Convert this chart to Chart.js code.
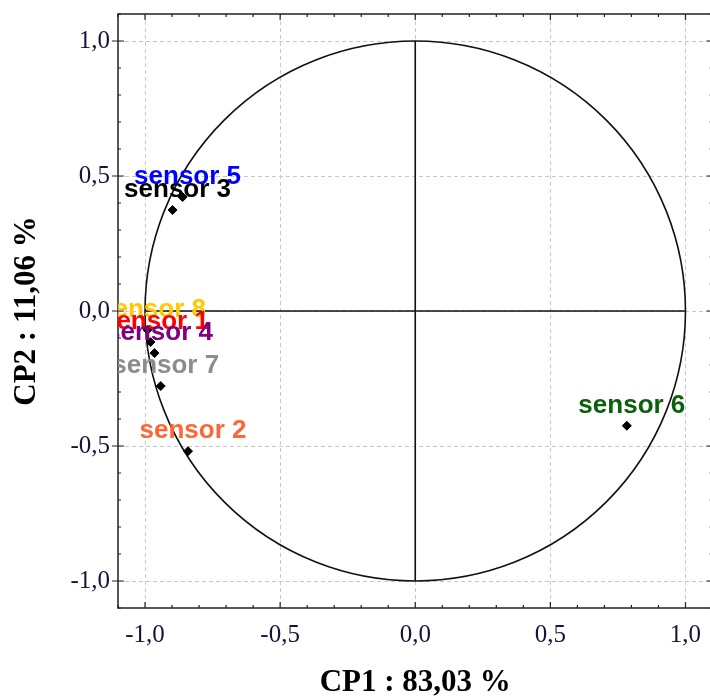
<!DOCTYPE html>
<html>
<head>
<meta charset="utf-8">
<script src="https://cdn.jsdelivr.net/npm/chart.js@4"></script>
<style>
  html, body { margin: 0; padding: 0; background: #fff; overflow: hidden; }
  canvas { display: block; }
</style>
</head>
<body>
<canvas id="cercleCorrelation" width="718" height="698"></canvas>
<script>
// correlations des capteurs avec les deux premieres composantes
var sensors = ['sensor 1', 'sensor 2', 'sensor 3', 'sensor 4', 'sensor 5', 'sensor 6', 'sensor 7', 'sensor 8'];
var cp1 = [-0.980, -0.841, -0.898, -0.965, -0.861, 0.783, -0.942, -0.991];
var cp2 = [-0.115, -0.519, 0.374, -0.156, 0.422, -0.425, -0.278, -0.070];
var labelColors = ['#ff0000', '#ff6633', '#000000', '#800080', '#0000ff', '#0b610b', '#8c8c8c', '#ffc800'];
// ordre de dessin des etiquettes (la derniere passe dessus)
var labelOrder = [7, 0, 3, 6, 1, 2, 4, 5];
var tickValues = [-1, -0.5, 0, 0.5, 1];

function fmt(v) {
  return v.toFixed(1).replace('.', ',');
}

var tickFont = { family: '"Liberation Serif", "Times New Roman", serif', size: 25 };
var titleFont = { family: '"Liberation Serif", "Times New Roman", serif', size: 31, weight: 'bold', lineHeight: 1 };

// cercle unite, axes centraux, cadre et petites graduations
var cerclePlugin = {
  id: 'cercle',
  beforeDatasetsDraw: function(chart) {
    var ctx = chart.ctx, a = chart.chartArea;
    var sx = chart.scales.x, sy = chart.scales.y;
    var cx = sx.getPixelForValue(0), cy = sy.getPixelForValue(0);
    var rx = sx.getPixelForValue(1) - cx, ry = cy - sy.getPixelForValue(1);
    ctx.save();
    ctx.strokeStyle = '#111';
    ctx.lineWidth = 1.6;
    ctx.beginPath();
    ctx.ellipse(cx, cy, rx, ry, 0, 0, Math.PI * 2);
    ctx.stroke();
    ctx.beginPath();
    ctx.moveTo(cx, sy.getPixelForValue(1));
    ctx.lineTo(cx, sy.getPixelForValue(-1));
    ctx.moveTo(sx.getPixelForValue(-1), cy);
    ctx.lineTo(sx.getPixelForValue(1), cy);
    ctx.stroke();

    ctx.strokeStyle = '#222';
    ctx.lineWidth = 1.5;
    ctx.strokeRect(a.left, a.top, a.right - a.left, a.bottom - a.top);

    ctx.lineWidth = 1.2;
    ctx.beginPath();
    for (var k = -11; k <= 11; k++) {
      var major = (k % 5 === 0);
      var len = major ? 6 : 3;
      var px = sx.getPixelForValue(k / 10);
      var py = sy.getPixelForValue(k / 10);
      ctx.moveTo(px, a.bottom); ctx.lineTo(px, a.bottom - len);
      ctx.moveTo(px, a.top); ctx.lineTo(px, a.top + len);
      ctx.moveTo(major ? a.left - 6 : a.left, py); ctx.lineTo(a.left + len, py);
      ctx.moveTo(a.right, py); ctx.lineTo(a.right - len, py);
    }
    ctx.stroke();
    ctx.restore();
  },
  afterDatasetsDraw: function(chart) {
    var ctx = chart.ctx, a = chart.chartArea;
    var sx = chart.scales.x, sy = chart.scales.y;
    ctx.save();
    ctx.beginPath();
    ctx.rect(a.left, a.top, a.right - a.left, a.bottom - a.top);
    ctx.clip();
    ctx.font = 'bold 26px "Liberation Sans", Arial, sans-serif';
    ctx.textAlign = 'center';
    ctx.textBaseline = 'alphabetic';
    labelOrder.forEach(function(i) {
      ctx.fillStyle = labelColors[i];
      ctx.fillText(sensors[i], sx.getPixelForValue(cp1[i]) + 5, sy.getPixelForValue(cp2[i]) - 13);
    });
    ctx.restore();
  }
};

var ctx = document.getElementById('cercleCorrelation').getContext('2d');
var chart = new Chart(ctx, {
  type: 'scatter',
  data: {
    datasets: [{
      data: cp1.map(function(x, i) { return { x: x, y: cp2[i] }; }),
      pointStyle: 'rectRot',
      pointRadius: 4.5,
      backgroundColor: '#000',
      borderColor: '#000',
      borderWidth: 1
    }]
  },
  options: {
    responsive: false,
    animation: false,
    layout: { padding: { top: 14, left: 0, right: 0, bottom: 0 } },
    plugins: {
      legend: { display: false },
      tooltip: { enabled: false }
    },
    scales: {
      x: {
        type: 'linear',
        min: -1.1,
        max: 1.1,
        afterBuildTicks: function(s) { s.ticks = tickValues.map(function(v) { return { value: v }; }); },
        afterFit: function(s) { s.height = 90; s.paddingLeft = 0; s.paddingRight = 0; },
        grid: { color: '#c8c8c8', drawTicks: false },
        border: { display: false, dash: [4, 3] },
        ticks: { padding: 12, font: tickFont, color: '#15153a', maxRotation: 0, callback: function(v) { return fmt(v); } },
        title: { display: true, text: 'CP1 : 83,03 %', font: titleFont, color: '#000', padding: { top: 0, bottom: 0 } }
      },
      y: {
        type: 'linear',
        min: -1.1,
        max: 1.1,
        afterBuildTicks: function(s) { s.ticks = tickValues.map(function(v) { return { value: v }; }); },
        afterFit: function(s) { s.width = 118; s.paddingTop = 0; s.paddingBottom = 0; },
        grid: { color: '#c8c8c8', drawTicks: false },
        border: { display: false, dash: [4, 3] },
        ticks: { padding: 8, font: tickFont, color: '#15153a', callback: function(v) { return fmt(v); } },
        title: { display: true, text: 'CP2 : 11,06 %', font: titleFont, color: '#000', padding: { top: 11.5, bottom: 0 } }
      }
    }
  },
  plugins: [cerclePlugin]
});
</script>
</body>
</html>
